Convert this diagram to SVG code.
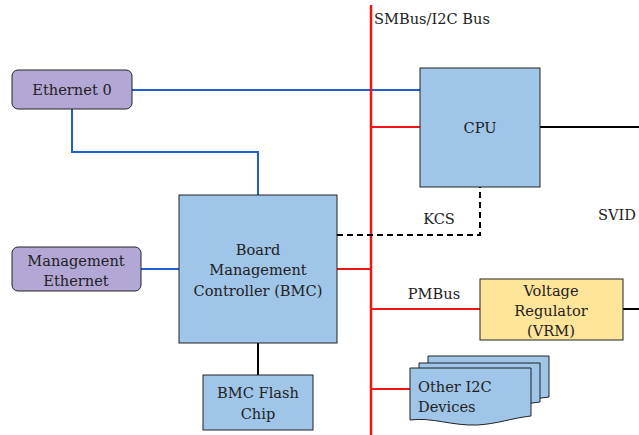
<svg xmlns="http://www.w3.org/2000/svg" width="639" height="435" viewBox="0 0 639 435">
<style>
text{font-family:'DejaVu Serif','Liberation Serif',serif;font-size:14.6px;fill:#222;text-anchor:middle}
.lt{text-anchor:start}
.eth{fill:#b3a7d6;stroke:#222;stroke-width:1}
.blk{fill:#9fc5e8;stroke:#222;stroke-width:1}
.vrm{fill:#ffe599;stroke:#222;stroke-width:1}
.blue{stroke:#1f5fd1;stroke-width:2;fill:none}
.red{stroke:#f01414;stroke-width:2;fill:none}
.k{stroke:#000;stroke-width:2;fill:none}
.dash{stroke:#000;stroke-width:2;fill:none;stroke-dasharray:6,4}
</style>
<rect width="639" height="435" fill="#fff"/>
<g id="connectors">
<path class="blue" d="M132,90 H420"/>
<path class="blue" d="M72,109 V152 H258 V195"/>
<path class="blue" d="M141,269 H179"/>
<path class="red" d="M371,5 V435" style="stroke-width:2.5"/>
<path class="red" d="M371,127 H420"/>
<path class="red" d="M337,269 H371"/>
<path class="red" d="M371,309 H480"/>
<path class="red" d="M371,389 H410"/>
<path class="k" d="M540,127 H639"/>
<path class="k" d="M623,309 H639"/>
<path class="k" d="M258,343 V375"/>
<path class="dash" d="M337,235 H480 V187"/>
<text x="374" y="24" class="lt">SMBus/I2C Bus</text>
<text x="439" y="224">KCS</text>
<text x="598" y="220" class="lt">SVID</text>
<text x="434" y="299">PMBus</text>
</g>
<g id="eth0">
<rect class="eth" x="12" y="70" width="120" height="39" rx="6"/>
<text x="72" y="95">Ethernet 0</text>
</g>
<g id="mgmt">
<rect class="eth" x="12" y="247" width="129" height="44" rx="6"/>
<text x="76" y="266">Management</text>
<text x="76" y="286">Ethernet</text>
</g>
<g id="cpu">
<rect class="blk" x="420" y="68" width="120" height="119"/>
<text x="480" y="133">CPU</text>
</g>
<g id="bmc">
<rect class="blk" x="179" y="195" width="158" height="148"/>
<text x="258" y="255">Board</text>
<text x="258" y="275">Management</text>
<text x="258" y="296">Controller (BMC)</text>
</g>
<g id="flash">
<rect class="blk" x="203" y="375" width="110" height="55"/>
<text x="258" y="398">BMC Flash</text>
<text x="258" y="419">Chip</text>
</g>
<g id="vrm">
<rect class="vrm" x="480" y="279" width="143" height="61"/>
<text x="551" y="296">Voltage</text>
<text x="551" y="316">Regulator</text>
<text x="551" y="336">(VRM)</text>
</g>
<g id="other">
<path class="blk" d="M428,356 H549 V397 C530,399 515,405 495,406 C470,407 450,398 428,401 Z"/>
<path class="blk" d="M419,363 H540 V402 C521,404 506,410 486,411 C461,412 441,403 419,406 Z"/>
<path class="blk" d="M410,368 H531 V416 C512,418 497,424 477,425 C452,426 432,417 410,420 Z"/>
<text x="418" y="392" class="lt">Other I2C</text>
<text x="418" y="412" class="lt">Devices</text>
</g>
</svg>
